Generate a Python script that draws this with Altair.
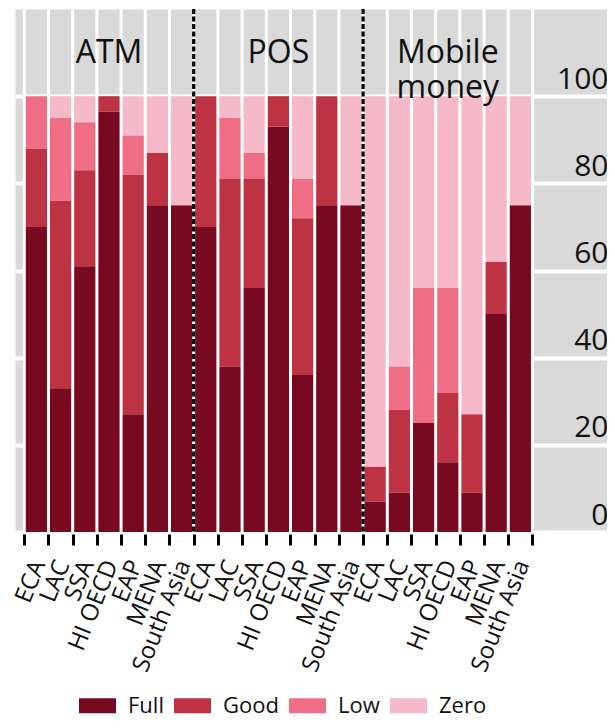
import json
import altair as alt
import pandas as pd

FONT = "Open Sans"
TEXT = "#111111"

groups = ["ATM", "POS", "Mobile money"]
regions = ["ECA", "LAC", "SSA", "HI OECD", "EAP", "MENA", "South Asia"]
levels = ["Full", "Good", "Low", "Zero"]
colors = ["#770A21", "#BE3343", "#EF6E86", "#F6B9CA"]

# values per bar, order: ATM (7 regions), POS (7), Mobile money (7)
full = [70, 33, 61, 96.5, 27, 75, 75,
        70, 38, 56, 93, 36, 75, 75,
        7, 9, 25, 16, 9, 50, 75]
good = [18, 43, 22, 3.5, 55, 12, 0,
        30, 43, 25, 7, 36, 25, 0,
        8, 19, 0, 16, 18, 12, 0]
low = [12, 19, 11, 0, 9, 0, 0,
       0, 14, 6, 0, 9, 0, 0,
       0, 10, 31, 24, 0, 0, 0]
zero = [0, 5, 6, 0, 9, 13, 25,
        0, 5, 13, 0, 19, 0, 25,
        85, 62, 44, 44, 73, 38, 25]

series = [full, good, low, zero]
nr = len(regions)
n = len(groups) * nr

rows = []
for gi, g in enumerate(groups):
    for ri, r in enumerate(regions):
        idx = gi * nr + ri
        for li, lev in enumerate(levels):
            rows.append({"group": g, "region": r, "idx": idx, "level": lev,
                         "order": li, "value": series[li][idx]})
df = pd.DataFrame(rows)

bounds = pd.DataFrame({"b": list(range(n + 1))})
seps = pd.DataFrame({"b": [nr * k for k in range(1, len(groups))]})
gdf = pd.DataFrame({"group": groups, "gi": list(range(len(groups)))})

xscale = alt.Scale(domain=[-0.384, 24.08], nice=False, zero=False)
yscale = alt.Scale(domain=[0, 120], nice=False, zero=True)

label_expr = (f"datum.value < {n} ? {json.dumps(regions)}[datum.value % {nr}] : ''")

xaxis = alt.Axis(values=list(range(n + 1)), labelExpr=label_expr, labelAngle=292,
                 labelAlign="right", labelBaseline="middle", labelFontSize=24,
                 labelFont=FONT, labelColor=TEXT, labelOffset=14.5, labelPadding=16,
                 labelOverlap=False, labelFlush=False, tickColor="black", tickWidth=3,
                 tickSize=11, offset=2, domain=False, grid=False, title=None)

yaxis = alt.Axis(orient="right", values=[0, 20, 40, 60, 80, 100], grid=True,
                 gridColor="white", gridWidth=4, domain=False, ticks=False,
                 labelAlign="right", labelBaseline="alphabetic", labelOffset=-8,
                 labelPadding=1, labelFontSize=30, labelFont=FONT, labelColor=TEXT,
                 title=None)

legend = alt.Legend(orient="none", legendX=64, legendY=678, direction="horizontal",
                    columns=4, title=None,
                    symbolType="M-1,-0.405L1,-0.405L1,0.405L-1,0.405Z",
                    symbolSize=1369, symbolStrokeWidth=0, symbolOpacity=1,
                    labelFontSize=22, labelFont=FONT, labelColor=TEXT,
                    labelOffset=12, columnPadding=10, padding=0)

bars = alt.Chart(df).transform_stack(
    stack="value", groupby=["idx"], sort=[alt.SortField("order")], as_=["y0", "y1"]
).transform_calculate(x1="datum.idx + 1").mark_bar(strokeWidth=0).encode(
    x=alt.X("idx:Q", scale=xscale, axis=xaxis),
    x2="x1:Q",
    y=alt.Y("y0:Q", scale=yscale, axis=yaxis),
    y2="y1:Q",
    color=alt.Color("level:N", scale=alt.Scale(domain=levels, range=colors), legend=legend),
)

white = alt.Chart(bounds).mark_rule(color="white", strokeWidth=3).encode(
    x=alt.X("b:Q", scale=xscale, axis=xaxis)
)

dashed = alt.Chart(seps).mark_rule(color="black", strokeWidth=3.2, strokeDash=[5, 2.5]).encode(
    x=alt.X("b:Q", scale=xscale, axis=xaxis)
)

titles = alt.Chart(gdf).transform_calculate(
    xc=f"datum.gi * {nr} + {nr / 2}"
).mark_text(fontSize=32, font=FONT, color=TEXT, lineBreak=" ", lineHeight=35,
            baseline="middle", align="center").encode(
    x=alt.X("xc:Q", scale=xscale, axis=xaxis),
    y=alt.Y(datum=110, scale=yscale, axis=yaxis),
    text="group:N",
)

chart = alt.layer(bars, white, dashed, titles).properties(
    width=592, height=523,
    autosize=alt.AutoSizeParams(type="none"),
    padding={"left": 7, "top": 1, "right": 0, "bottom": 188},
).configure_view(fill="#D9D9D9", stroke="transparent")

chart.save("out.html", embed_options={"renderer": "svg", "actions": False})
